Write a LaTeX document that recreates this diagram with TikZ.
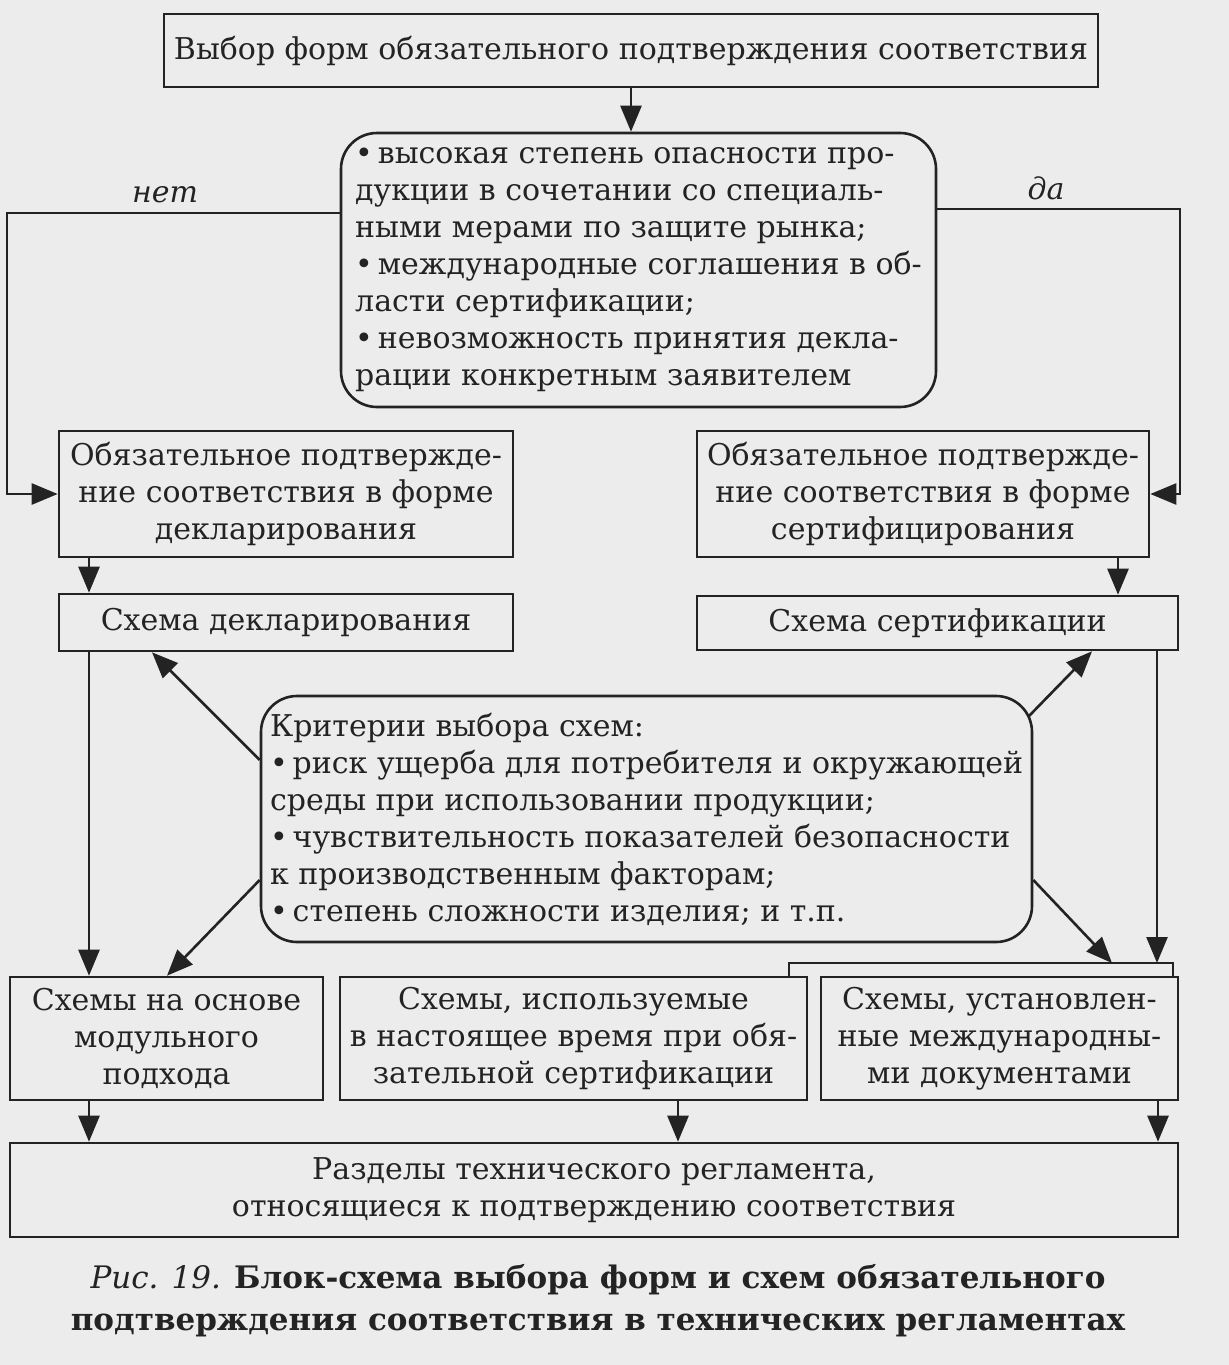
\documentclass[tikz,border=0pt]{standalone}
\usepackage{fontspec}
\setmainfont{DejaVu Serif}
\usetikzlibrary{arrows.meta}
\definecolor{ink}{RGB}{35,35,35}
\definecolor{paper}{RGB}{236,236,236}
\begin{document}
\begin{tikzpicture}[x=0.5pt,y=-0.5pt,
  box/.style={draw=ink, line width=1.3pt, inner sep=0pt, text=ink, align=center,
    font=\fontsize{15}{18.5}\selectfont},
  rbox/.style={box, rounded corners=18pt},
  conn/.style={draw=ink, line width=1.3pt},
  arr/.style={conn, -{Triangle[length=13pt,width=10.5pt]}},
  lbl/.style={text=ink, font=\fontsize{15}{18.5}\selectfont\itshape}]
\fill[paper] (0,0) rectangle (1229,1365);
\useasboundingbox (0,0) rectangle (1229,1365);

% nodes
\node[box, minimum width=467pt, minimum height=36.5pt] (top) at (631,50.5)
  {Выбор форм обязательного подтверждения соответствия};
\node[rbox, align=left, minimum width=297.5pt, minimum height=137pt] (cond) at (638.5,270)
  {\textbullet\,высокая степень опасности про-\\
   дукции в сочетании со специаль-\\
   ными мерами по защите рынка;\\
   \textbullet\,международные соглашения в об-\\
   ласти сертификации;\\
   \textbullet\,невозможность принятия декла-\\
   рации конкретным заявителем};
\node[lbl] (net) at (165,195) {нет};
\node[lbl] (da) at (1046,188) {да};
\node[box, minimum width=227pt, minimum height=63pt] (left) at (286,494)
  {Обязательное подтвержде-\\ние соответствия в форме\\декларирования};
\node[box, minimum width=226pt, minimum height=63pt] (right) at (923,494)
  {Обязательное подтвержде-\\ние соответствия в форме\\сертифицирования};
\node[box, minimum width=227pt, minimum height=28.5pt] (schD) at (286,622.5)
  {Схема декларирования};
\node[box, minimum width=240.5pt, minimum height=27pt] (schC) at (937.5,623)
  {Схема сертификации};
\node[rbox, align=left, minimum width=385.5pt, minimum height=123pt] (crit) at (646.5,819)
  {Критерии выбора схем:\\
   \textbullet\,риск ущерба для потребителя и окружающей\\
   среды при использовании продукции;\\
   \textbullet\,чувствительность показателей безопасности\\
   к производственным факторам;\\
   \textbullet\,степень сложности изделия; и т.п.};
\node[box, minimum width=156.5pt, minimum height=61.5pt] (b1) at (166.5,1038.5)
  {Схемы на основе\\модульного\\подхода};
\node[box, minimum width=233.5pt, minimum height=61.5pt] (b2) at (573.5,1038.5)
  {Схемы, используемые\\в настоящее время при обя-\\зательной сертификации};
\node[box, minimum width=178.5pt, minimum height=61.5pt] (b3) at (999.5,1038.5)
  {Схемы, установлен-\\ные международны-\\ми документами};
\node[box, minimum width=584pt, minimum height=47pt] (bot) at (594,1190)
  {Разделы технического регламента,\\относящиеся к подтверждению соответствия};
\node[text=ink, align=center, font=\fontsize{15.5}{21}\selectfont] (cap) at (598,1301)
  {\textit{Рис. 19.} \textbf{Блок-схема выбора форм и схем обязательного}\\
   \textbf{подтверждения соответствия в технических регламентах}};

% helper coordinates
\coordinate (nl) at (7,213);
\coordinate (yr) at (1180,209);
\coordinate (xl) at (89,0);
\coordinate (xr) at (1118,0);
\coordinate (xc) at (1157,0);
\coordinate (y1) at (0,760);
\coordinate (y2) at (0,880);
\coordinate (tD) at (152,0);
\coordinate (tB) at (167,0);
\coordinate (brL) at (789,963);
\coordinate (brR) at (1173,963);
\coordinate (brA) at (1112,963);
\coordinate (cNE) at (1029,716);
\coordinate (tC) at (1092,0);
\coordinate (x2) at (678,0);
\coordinate (x3) at (1158,0);

% connectors
\draw[arr] (top.south) -- (top.south |- cond.north);
\draw[arr] (cond.west |- nl) -- (nl) -- (nl |- left.west) -- (left.west);
\draw[arr] (cond.east |- yr) -- (yr) -- (yr |- right.east) -- (right.east);
\draw[arr] (left.south -| xl) -- (schD.north -| xl);
\draw[arr] (right.south -| xr) -- (schC.north -| xr);
\draw[arr] (crit.west |- y1) -- (schD.south -| tD);
\draw[arr] (cNE) -- (schC.south -| tC);
\draw[arr] (crit.west |- y2) -- (b1.north -| tB);
\draw[arr] (crit.east |- y2) -- (brA);
\draw[arr] (schD.south -| xl) -- (b1.north -| xl);
\draw[arr] (schC.south -| xc) -- (xc |- brR);
\draw[conn] (b2.north -| brL) -- (brL) -- (brR) -- (b3.north -| brR);
\draw[arr] (b1.south -| xl) -- (bot.north -| xl);
\draw[arr] (b2.south -| x2) -- (bot.north -| x2);
\draw[arr] (b3.south -| x3) -- (bot.north -| x3);
\end{tikzpicture}
\end{document}
